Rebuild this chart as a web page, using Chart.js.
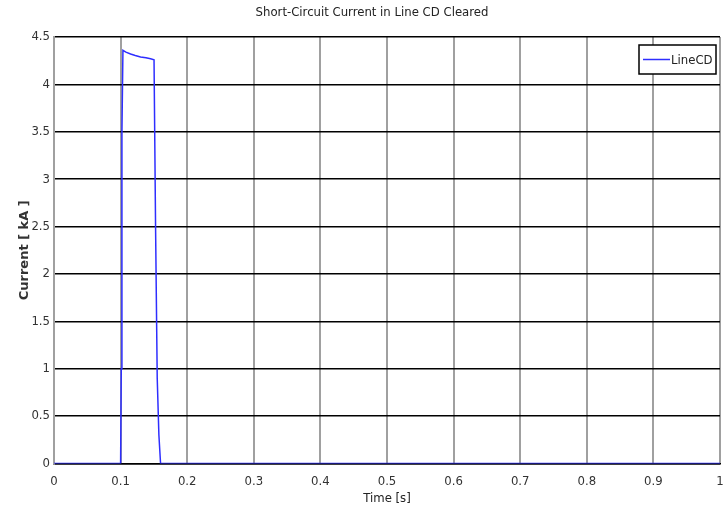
<!DOCTYPE html>
<html>
<head>
<meta charset="utf-8">
<title>Short-Circuit Current in Line CD Cleared</title>
<script src="https://cdn.jsdelivr.net/npm/chart.js@4.4.1/dist/chart.umd.min.js"></script>
<style>
  html, body { margin: 0; padding: 0; background: #fff; }
  #wrap { width: 727px; height: 516px; }
</style>
</head>
<body>
<div id="wrap"><canvas id="chart" width="727" height="516"></canvas></div>
<script>
// breaker trace for line CD: time in seconds, current in kA
const timeS = [0, 0.1, 0.101, 0.102, 0.1035, 0.108, 0.115, 0.122, 0.13, 0.138, 0.145, 0.1502, 0.1525, 0.155, 0.1575, 0.16, 1];
const currentKA = [0, 0, 1.0, 3.5, 4.36, 4.34, 4.32, 4.305, 4.29, 4.28, 4.27, 4.26, 2.5, 0.9, 0.3, 0, 0];

const xTicks = [0, 0.1, 0.2, 0.3, 0.4, 0.5, 0.6, 0.7, 0.8, 0.9, 1];
const yTicks = [0, 0.5, 1, 1.5, 2, 2.5, 3, 3.5, 4, 4.5];

const seriesName = "LineCD";
const chartTitle = "Short-Circuit Current in Line CD Cleared";
const narrow = "'Liberation Sans Narrow', 'DejaVu Sans Condensed', 'Liberation Sans', Arial, sans-serif";

const points = timeS.map((t, i) => ({ x: t, y: currentKA[i] }));

// title sits a little left of the plot centre, so draw it by hand
const topTitle = {
  id: "topTitle",
  afterDraw(chart) {
    const ctx = chart.ctx;
    ctx.save();
    ctx.fillStyle = "#222";
    ctx.font = "13px " + narrow;
    ctx.textAlign = "center";
    ctx.textBaseline = "middle";
    ctx.fillText(chartTitle, 372, 13);
    ctx.restore();
  }
};

// boxed legend in the upper-right corner of the plot
const boxLegend = {
  id: "boxLegend",
  afterDatasetsDraw(chart) {
    const ctx = chart.ctx;
    const ds = chart.data.datasets[0];
    const x0 = 639, y0 = 45, w = 77, h = 29;
    ctx.save();
    ctx.fillStyle = "#fff";
    ctx.fillRect(x0, y0, w, h);
    ctx.strokeStyle = "#000";
    ctx.lineWidth = 1.5;
    ctx.strokeRect(x0, y0, w, h);
    ctx.strokeStyle = ds.borderColor;
    ctx.lineWidth = 1.5;
    ctx.beginPath();
    ctx.moveTo(643, y0 + h / 2);
    ctx.lineTo(670, y0 + h / 2);
    ctx.stroke();
    ctx.fillStyle = "#222";
    ctx.font = "13px " + narrow;
    ctx.textBaseline = "middle";
    ctx.fillText(ds.label, 671, y0 + h / 2 + 1);
    ctx.restore();
  }
};

new Chart(document.getElementById("chart"), {
  type: "line",
  data: {
    datasets: [{
      label: seriesName,
      data: points,
      borderColor: "#2e2eff",
      borderWidth: 1.5,
      pointRadius: 0,
      tension: 0,
      fill: false,
    }],
  },
  options: {
    responsive: false,
    animation: false,
    layout: { padding: { top: 37, right: 0, left: 0, bottom: 0 } },
    plugins: {
      legend: { display: false },
      tooltip: { enabled: false },
      title: { display: false },
    },
    scales: {
      x: {
        type: "linear",
        min: 0,
        max: 1,
        afterBuildTicks: (scale) => { scale.ticks = xTicks.map((v) => ({ value: v })); },
        afterFit: (scale) => {
          scale.height = 52.5;
          scale.paddingLeft = 0;
          scale.paddingRight = 7;
        },
        ticks: {
          color: "#333",
          font: { family: narrow, size: 13 },
          padding: 10,
          maxRotation: 0,
          callback: (v) => String(v),
        },
        grid: { color: "#a0a0a0", lineWidth: 2, drawTicks: false },
        border: { color: "#000", width: 1.5 },
        title: {
          display: true,
          text: "Time [s]",
          color: "#222",
          font: { family: narrow, size: 13 },
          padding: { top: 0, bottom: 9.5 },
        },
      },
      y: {
        min: 0,
        max: 4.5,
        afterBuildTicks: (scale) => { scale.ticks = yTicks.map((v) => ({ value: v })); },
        afterFit: (scale) => { scale.width = 54; },
        ticks: {
          color: "#333",
          font: { family: narrow, size: 13 },
          padding: 4,
          callback: (v) => String(v),
        },
        grid: { color: "#000", lineWidth: 1.5, drawTicks: false },
        border: { color: "#a0a0a0", width: 2 },
        title: {
          display: true,
          text: "Current [ kA ]",
          color: "#333",
          font: { family: "'DejaVu Sans', Verdana, sans-serif", size: 13, weight: "bold" },
          padding: { top: 17, bottom: 0 },
        },
      },
    },
  },
  plugins: [topTitle, boxLegend],
});
</script>
</body>
</html>
